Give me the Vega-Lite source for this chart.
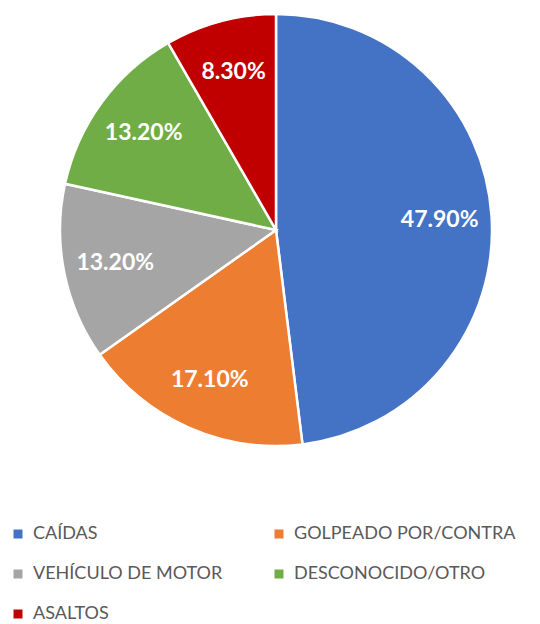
{
  "$schema": "https://vega.github.io/schema/vega-lite/v6.json",
  "autosize": "none",
  "width": 528,
  "height": 460,
  "padding": {"left": 12, "top": 0, "right": 0, "bottom": 164},
  "background": "white",
  "config": {"view": {"stroke": null}},
  "data": {
    "values": [
      {"categoria": "CAÍDAS", "valor": 0.479, "orden": 1},
      {"categoria": "GOLPEADO POR/CONTRA", "valor": 0.171, "orden": 2},
      {"categoria": "VEHÍCULO DE MOTOR", "valor": 0.132, "orden": 3},
      {"categoria": "DESCONOCIDO/OTRO", "valor": 0.132, "orden": 4},
      {"categoria": "ASALTOS", "valor": 0.083, "orden": 5}
    ]
  },
  "encoding": {
    "theta": {"field": "valor", "type": "quantitative", "stack": true},
    "order": {"field": "orden", "type": "quantitative"},
    "color": {
      "field": "categoria",
      "type": "nominal",
      "scale": {
        "domain": ["CAÍDAS", "GOLPEADO POR/CONTRA", "VEHÍCULO DE MOTOR", "DESCONOCIDO/OTRO", "ASALTOS"],
        "range": ["#4472C4", "#ED7D31", "#A5A5A5", "#70AD47", "#C00000"]
      },
      "legend": {
        "title": null,
        "orient": "none",
        "legendX": -3,
        "legendY": 525,
        "columns": 2,
        "direction": "horizontal",
        "symbolType": "square",
        "symbolSize": 81,
        "symbolStrokeWidth": 0,
        "labelFont": "Lato",
        "labelFontSize": 18,
        "labelColor": "#595959",
        "labelOffset": 6,
        "labelLimit": 300,
        "rowPadding": 22,
        "columnPadding": 47
      }
    }
  },
  "layer": [
    {
      "mark": {"type": "arc", "outerRadius": 216, "stroke": "white", "strokeWidth": 2.5}
    },
    {
      "mark": {"type": "text", "radius": 164, "font": "Lato", "fontSize": 23, "fontWeight": "bold", "fill": "white"},
      "encoding": {
        "text": {"field": "valor", "type": "quantitative", "format": ".2%"},
        "color": {"value": "white"}
      }
    }
  ]
}
